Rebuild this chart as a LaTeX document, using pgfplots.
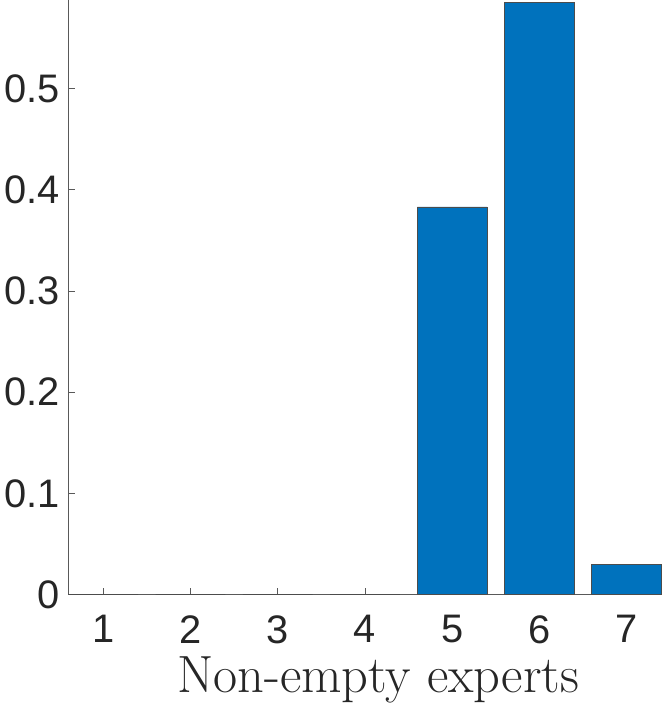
\documentclass[border=0pt]{standalone}
\usepackage{pgfplots}
\pgfplotsset{compat=1.18}
\usepackage{fontspec}
\newfontfamily\arial{Liberation Sans}
\definecolor{mblue}{RGB}{0,114,189}
\definecolor{tgray}{RGB}{38,38,38}
\begin{document}
\begin{tikzpicture}
\begin{axis}[
  scale only axis,
  width=447pt, height=448pt,
  xmin=0.6, xmax=7.4, ymin=0, ymax=0.587,
  axis x line=bottom, axis y line=left,
  axis line style={-, draw=gray!70!black, line width=0.5pt},
  xtick={1,...,7},
  ytick={0,0.1,0.2,0.3,0.4,0.5},
  yticklabels={0,0.1,0.2,0.3,0.4,0.5},
  tick align=inside,
  major tick length=5pt,
  tick style={gray!70!black, line width=0.5pt},
  /pgf/number format/assume math mode=true,
  ticklabel style={font=\arial\fontsize{30}{32}\selectfont, text=tgray},
  xticklabel style={yshift=-12pt},
  yticklabel style={xshift=-3pt},
  xlabel={Non-empty experts},
  xlabel style={font=\fontsize{39.5}{44}\selectfont, text=tgray,
    at={(axis description cs:0.5,0)}, anchor=base, yshift=-74pt, xshift=10pt},
  clip=false,
]
\addplot[ybar, bar width=0.8, fill=mblue, draw=black!70, line width=0.4pt]
  coordinates {(1,0) (2,0) (3,0) (4,0) (5,0.383) (6,0.585) (7,0.030)};
\end{axis}
\end{tikzpicture}
\end{document}
